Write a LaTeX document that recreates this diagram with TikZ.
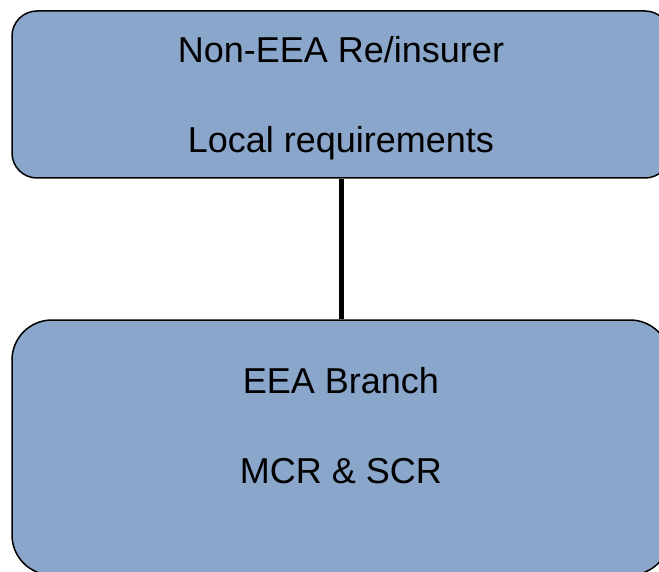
\documentclass[tikz,border=0pt]{standalone}
\usepackage{fontspec}
\setmainfont{Liberation Sans}
\definecolor{boxblue}{RGB}{138,166,203}
\begin{document}
\begin{tikzpicture}[x=1pt,y=1pt,
  panel/.style={draw=black, line width=1.5pt, fill=boxblue, inner sep=0pt},
  caption/.style={anchor=base, inner sep=0pt, font=\fontsize{36}{42}\selectfont},
  link/.style={draw=black, line width=5pt}]
  \useasboundingbox (0,0) rectangle (659,-572);
  \begin{scope}
    \clip (0,0) rectangle (659,-572);
    % upper box: the non-EEA undertaking
    \node[panel, rounded corners=25pt, minimum width=658pt, minimum height=167pt]
      (parent) at (341,-94.5) {};
    % lower box: the branch inside the EEA
    \node[panel, rounded corners=40pt, minimum width=658pt, minimum height=255pt]
      (branch) at (341,-447.5) {};
    \draw[link] (parent.south) -- (branch.north);
  \end{scope}
  \node[caption] (t1) at (341,-63) {Non-EEA Re/insurer};
  \node[caption] (t2) at (341,-153) {Local requirements};
  \node[caption] (t3) at (341,-393) {EEA Branch};
  \node[caption] (t4) at (341,-483) {MCR \& SCR};
\end{tikzpicture}
\end{document}
